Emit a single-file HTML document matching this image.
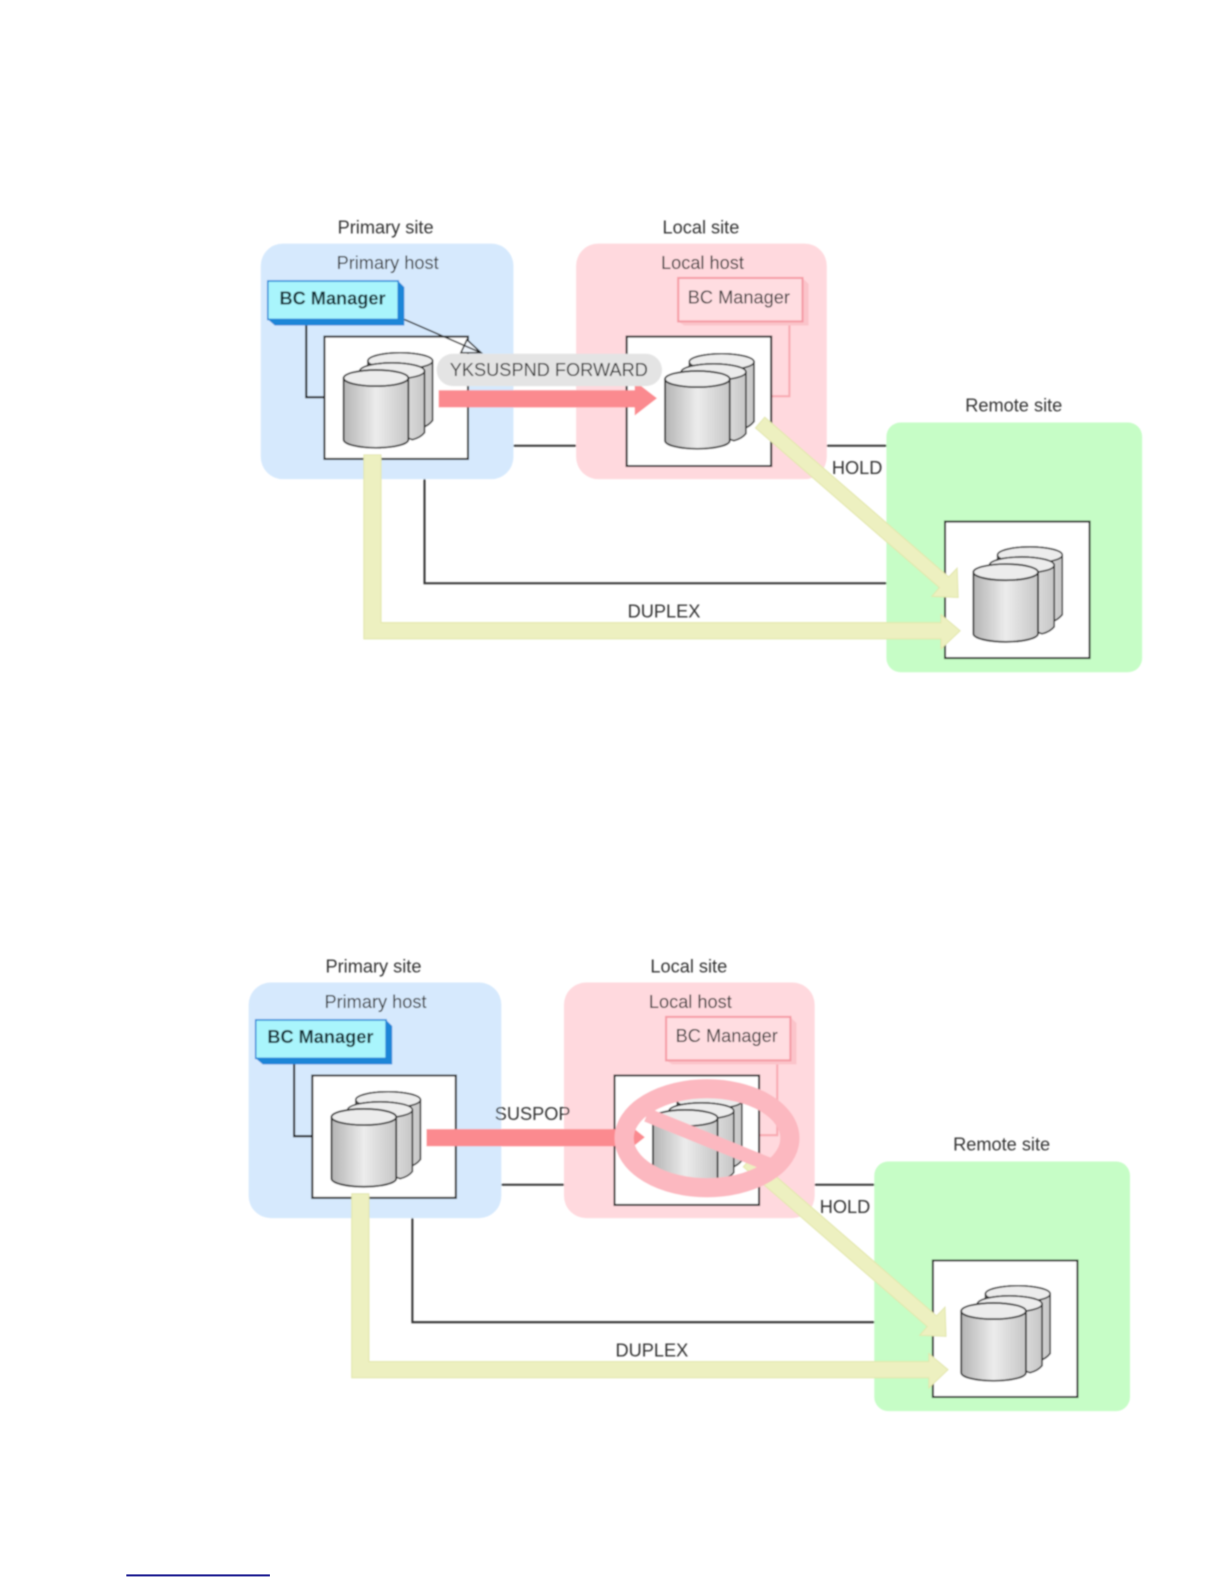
<!DOCTYPE html>
<html>
<head>
<meta charset="utf-8">
<style>
html,body{margin:0;padding:0;background:#fff;width:1224px;height:1584px;overflow:hidden}
svg{display:block;position:absolute;left:0;top:0}
text{font-family:"Liberation Sans",sans-serif;font-size:18px;fill:#333}
.b{filter:url(#soft)}
</style>
</head>
<body>
<svg width="1224" height="1584" viewBox="0 0 1211 1567" preserveAspectRatio="none" xmlns="http://www.w3.org/2000/svg">
<defs>
<filter id="soft" x="-5%" y="-5%" width="110%" height="110%"><feGaussianBlur stdDeviation="0.8"/></filter>
<linearGradient id="cg" x1="0" x2="1" y1="0" y2="0">
<stop offset="0" stop-color="#b4b4b4"/><stop offset="0.5" stop-color="#ececec"/><stop offset="1" stop-color="#c6c6c6"/>
</linearGradient>
<g id="cyl">
<path d="M24 -9 a32 8 0 0 1 64 0 V50 q-4 5 -10 7 L24 40Z" fill="url(#cg)" stroke="#222" stroke-width="1.500"/>
<ellipse cx="56" cy="-9" rx="32" ry="8" fill="#ececec" stroke="#222" stroke-width="1.500"/>
<path d="M16 1 a32 8 0 0 1 64 0 V62 q-4 5 -12 7 L16 50Z" fill="url(#cg)" stroke="#222" stroke-width="1.500"/>
<ellipse cx="48" cy="1" rx="32" ry="8" fill="#ececec" stroke="#222" stroke-width="1.500"/>
<path d="M0 8 V69 a32 8 0 0 0 64 0 V8Z" fill="url(#cg)" stroke="#222" stroke-width="1.700"/>
<ellipse cx="32" cy="8" rx="32" ry="8" fill="#ececec" stroke="#222" stroke-width="1.700"/>
</g>
<g id="base">
<path d="M508 441H570M818 441H877M420 474V577H877" fill="none" stroke="#333" stroke-width="2"/>
<rect x="258" y="241" width="250" height="233" rx="22" fill="#d6e9fd"/>
<rect x="570" y="241" width="248" height="233" rx="22" fill="#ffd9de"/>
<rect x="877" y="418" width="253" height="247" rx="14" fill="#c6fdc6"/>
<path d="M303 320V393H321" fill="none" stroke="#111" stroke-width="2"/>
<path d="M781 322V392H763" fill="none" stroke="#f8a8b0" stroke-width="2"/>
<rect x="321" y="333" width="142" height="121" fill="#fff" stroke="#222" stroke-width="2"/>
<rect x="620" y="333" width="143" height="128" fill="#fff" stroke="#222" stroke-width="2"/>
<rect x="935" y="516" width="143" height="135" fill="#fff" stroke="#222" stroke-width="2"/>
<use href="#cyl" x="340" y="366"/>
<use href="#cyl" x="658" y="367"/>
<use href="#cyl" x="963" y="558"/>
<path d="M265 278H394L400 284V322H272L265 316Z" fill="#1a86d8"/>
<rect x="265" y="278" width="129" height="38" fill="#a9f5fc" stroke="#1a86d8" stroke-width="1.500"/>
<path d="M677 322H800V281L794 275V318H671Z" fill="#fbc4ca"/>
<rect x="671" y="275" width="123" height="43" fill="#ffdde1" stroke="#f59aa4" stroke-width="2"/>
</g>
<g id="yel" fill="#edf0c0" stroke="#e2e6aa" stroke-width="1">
<path d="M360 450H377V616H931V608L950 624L931 642V632H360Z"/>
<path d="M756.600 412.700L938.600 570.700L947 562L948 591L922 590L929.400 581.300L747.400 423.300Z"/>
</g>
</defs>

<g class="b">
<use href="#base"/>
<use href="#yel"/>
<path d="M400 316L476 349M462 336L476 349L456 349Z" fill="#eef4fb" stroke="#222" stroke-width="1.500"/>
<path d="M434 386H628V377L650 394L628 411V403H434Z" fill="#fb8a8f"/>
<rect x="432" y="350" width="223" height="32" rx="16" fill="#e4e4e4"/>
<text x="381.500" y="231" text-anchor="middle">Primary site</text>
<text x="383.500" y="266" text-anchor="middle">Primary host</text>
<text x="329" y="301" text-anchor="middle" style="font-weight:bold;fill:#0c2a30">BC Manager</text>
<text x="693.500" y="231" text-anchor="middle">Local site</text>
<text x="695" y="266" text-anchor="middle">Local host</text>
<text x="731" y="300" text-anchor="middle">BC Manager</text>
<text x="1003" y="407" text-anchor="middle">Remote site</text>
<text x="543" y="372" text-anchor="middle">YKSUSPND FORWARD</text>
<text x="848" y="469" text-anchor="middle">HOLD</text>
<text x="657" y="611" text-anchor="middle">DUPLEX</text>
</g>

<g class="b">
<g transform="translate(-12 731)">
<use href="#base"/>
<use href="#yel"/>
<path d="M434 386H630V378L650 394L630 410V403H434Z" fill="#fb8a8f"/>
</g>
<ellipse cx="699.500" cy="1126" rx="82" ry="49" fill="none" stroke="#fcb8c0" stroke-width="19"/>
<path d="M640 1103L768 1155" stroke="#fcb8c0" stroke-width="14"/>
<text x="369.500" y="962" text-anchor="middle">Primary site</text>
<text x="371.500" y="997" text-anchor="middle">Primary host</text>
<text x="317" y="1032" text-anchor="middle" style="font-weight:bold;fill:#0c2a30">BC Manager</text>
<text x="681.500" y="962" text-anchor="middle">Local site</text>
<text x="683" y="997" text-anchor="middle">Local host</text>
<text x="719" y="1031" text-anchor="middle">BC Manager</text>
<text x="991" y="1138" text-anchor="middle">Remote site</text>
<text x="527" y="1108" text-anchor="middle">SUSPOP</text>
<text x="836" y="1200" text-anchor="middle">HOLD</text>
<text x="645" y="1342" text-anchor="middle">DUPLEX</text>
</g>

<rect x="125" y="1557.500" width="142" height="2" fill="#1a1a90"/>
</svg>
</body>
</html>
